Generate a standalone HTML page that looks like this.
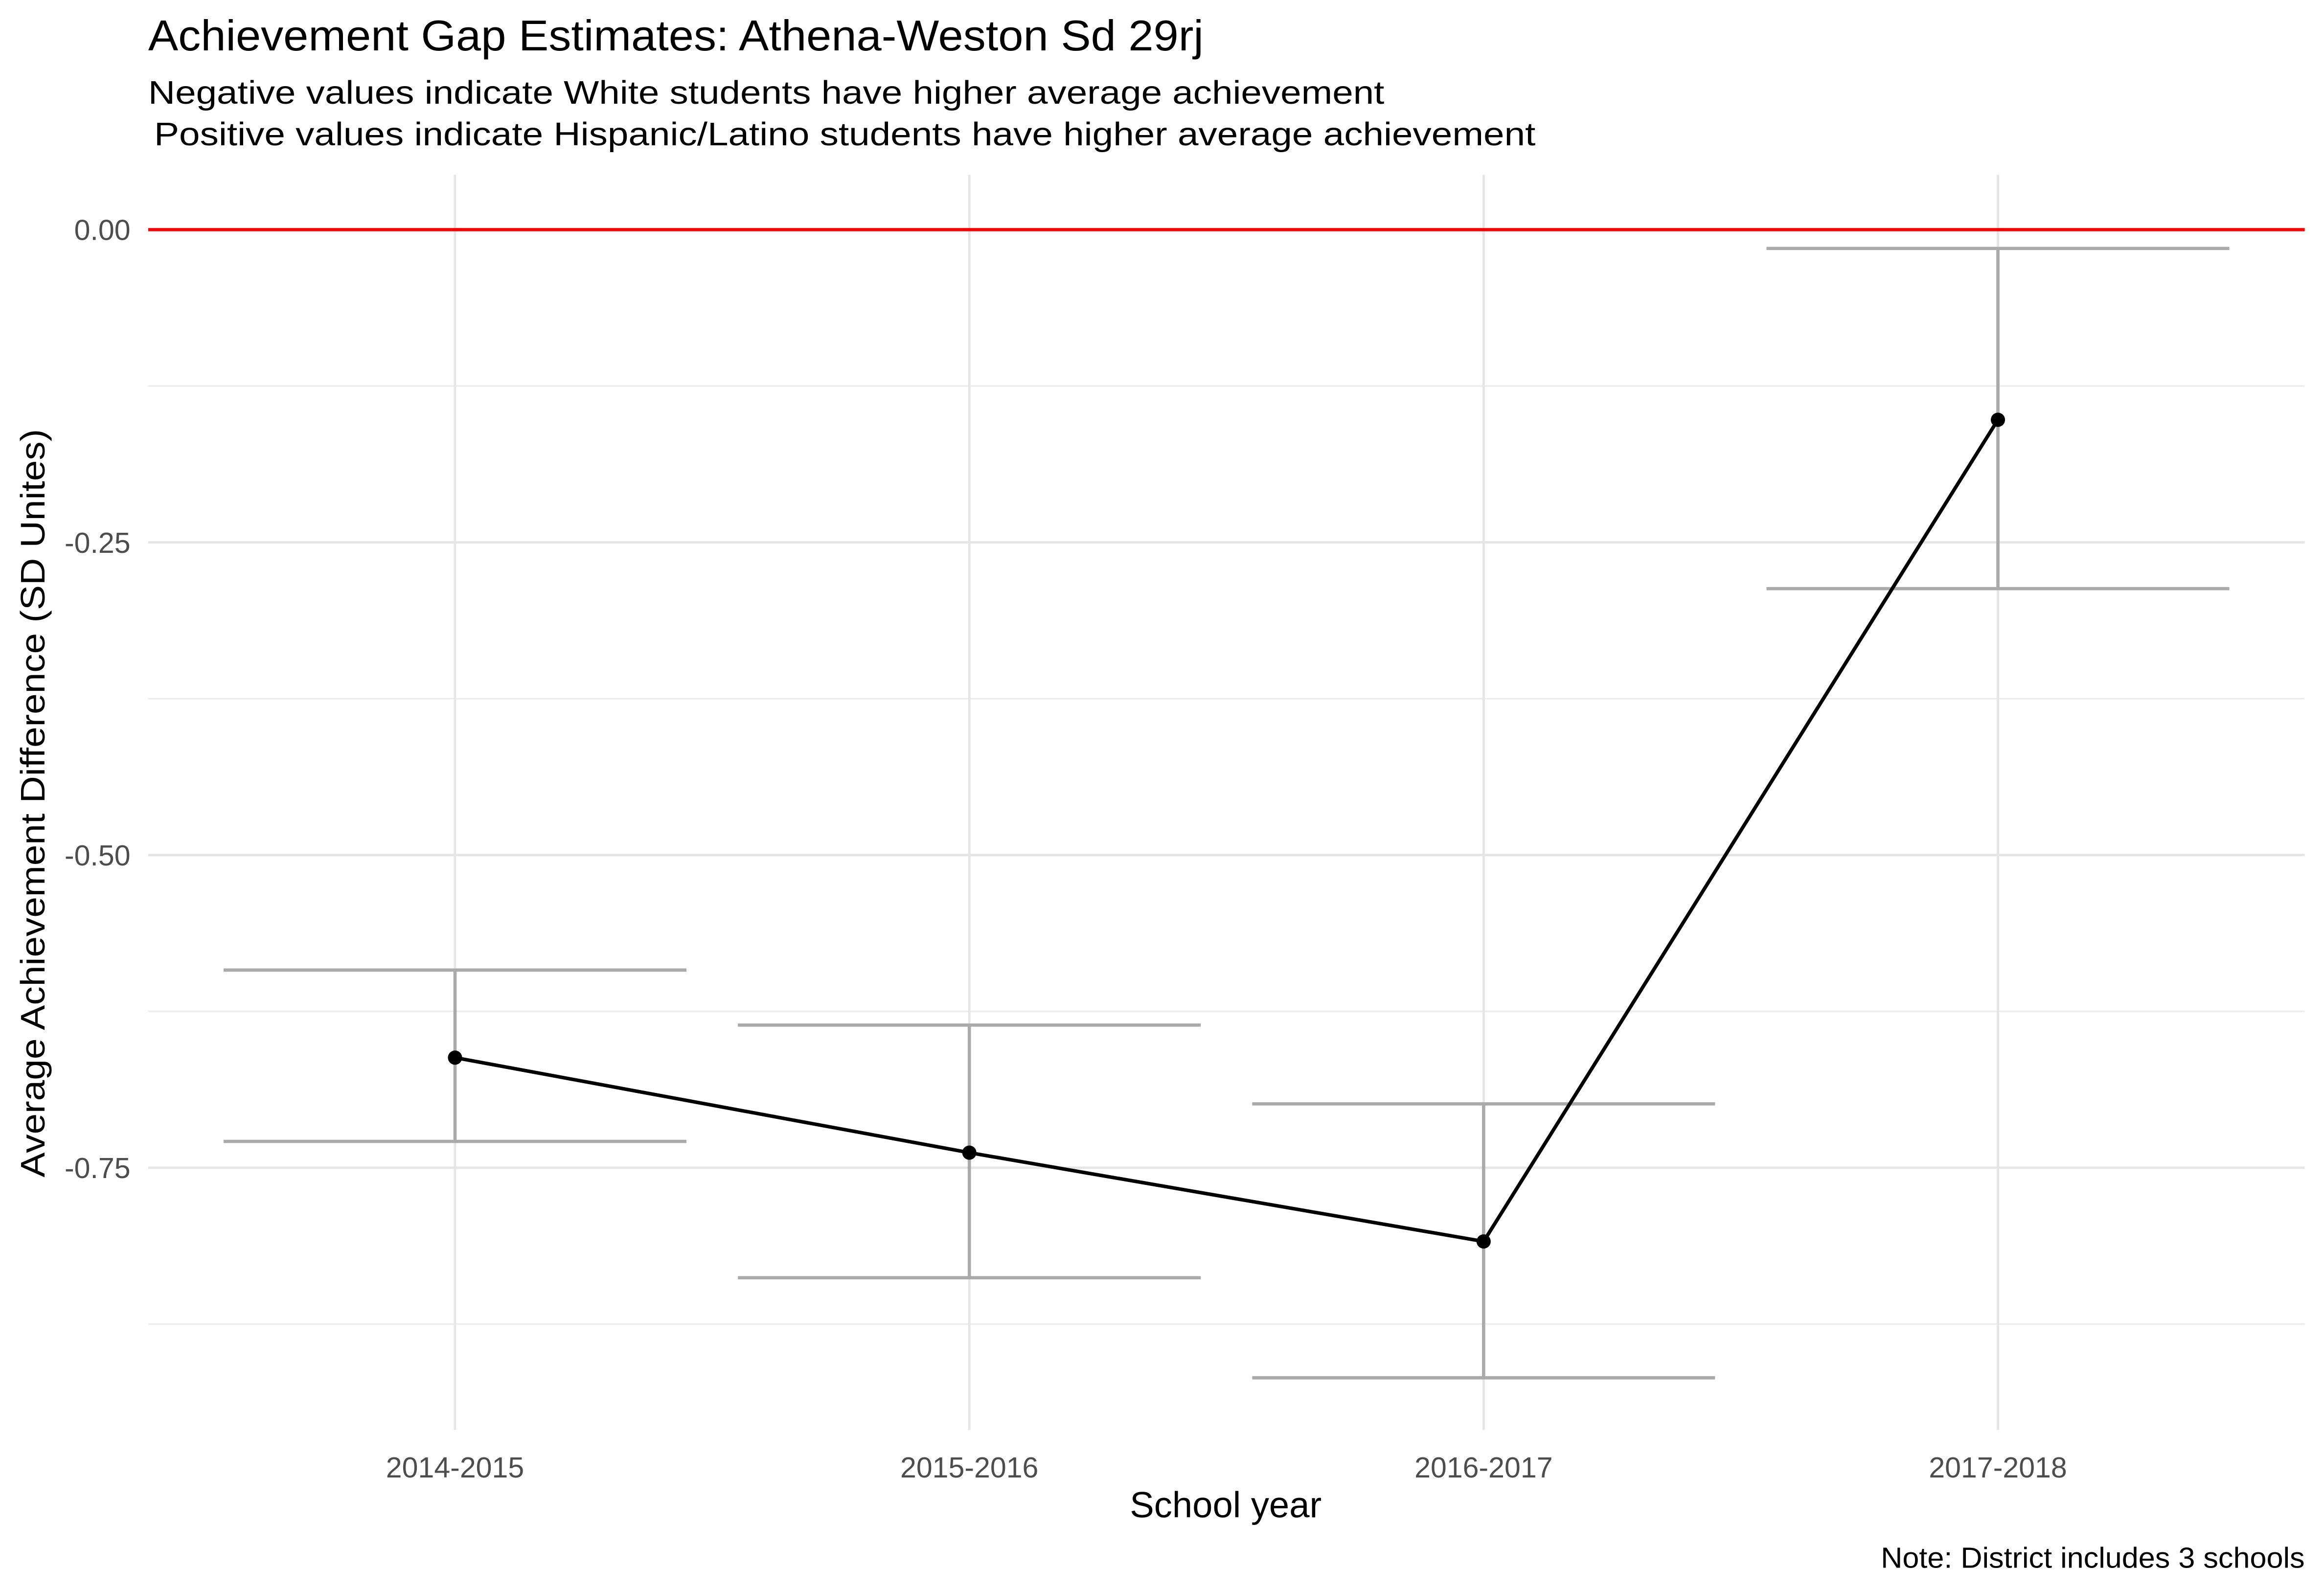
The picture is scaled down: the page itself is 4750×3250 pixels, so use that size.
<!DOCTYPE html>
<html><head><meta charset="utf-8"><style>
html,body{margin:0;padding:0;background:#fff;}
svg{display:block;font-family:"Liberation Sans",Arial,sans-serif;}
</style></head><body>
<svg id="chart" width="4750" height="3250" viewBox="0 0 1568 1073" preserveAspectRatio="none" xmlns="http://www.w3.org/2000/svg">
<rect width="1568" height="1073" fill="#fff"/>
<text x="100" y="34" font-size="29" textLength="712" lengthAdjust="spacingAndGlyphs">Achievement Gap Estimates: Athena-Weston Sd 29rj</text>
<text x="100" y="70" font-size="22" textLength="834" lengthAdjust="spacingAndGlyphs">Negative values indicate White students have higher average achievement</text>
<text x="104" y="98" font-size="22" textLength="932" lengthAdjust="spacingAndGlyphs">Positive values indicate Hispanic/Latino students have higher average achievement</text>
<g id="grid"></g>
<g id="marks"></g>
<g id="labels" font-size="19.5" fill="#4d4d4d"></g>
<text x="827" y="1024" font-size="24.5" text-anchor="middle">School year</text>
<text transform="translate(30,542) rotate(-90)" font-size="23" text-anchor="middle" textLength="505" lengthAdjust="spacingAndGlyphs">Average Achievement Difference (SD Unites)</text>
<text x="1555" y="1058" font-size="19.5" text-anchor="end" textLength="286" lengthAdjust="spacingAndGlyphs">Note: District includes 3 schools</text>
</svg>
<script>
const categories = ["2014-2015","2015-2016","2016-2017","2017-2018"];
const estimates = [-0.662, -0.738, -0.809, -0.152];
const upperCI = [-0.592, -0.636, -0.699, -0.015];
const lowerCI = [-0.729, -0.838, -0.918, -0.287];
const majorTicks = [0, -0.25, -0.5, -0.75];
const tickLabels = ["0.00","-0.25","-0.50","-0.75"];
const minorTicks = [-0.125, -0.375, -0.625, -0.875];

const NS = "http://www.w3.org/2000/svg";
const panelL = 100, panelR = 1555, panelT = 118, panelB = 965;
function yScale(v){ return 155 - v * 844; }
function xScale(i){ return 307 + i * 347; }
const halfW = 0.45 * 347;
function mk(tag, attrs, parent){
  const e = document.createElementNS(NS, tag);
  for (const k in attrs) e.setAttribute(k, attrs[k]);
  parent.appendChild(e);
  return e;
}
const grid = document.getElementById('grid');
const marks = document.getElementById('marks');
const labels = document.getElementById('labels');

minorTicks.forEach(v => {
  const l = mk('line', {x1:panelL, x2:panelR, y1:yScale(v), y2:yScale(v), stroke:'#ebebeb', 'stroke-width':1}, grid);
  
  
});
majorTicks.forEach((v, i) => {
  const l = mk('line', {x1:panelL, x2:panelR, y1:yScale(v), y2:yScale(v), stroke:'#e5e5e5', 'stroke-width':1.6}, grid);
  
  
  const t = mk('text', {x:88, y:yScale(v) + 7, 'text-anchor':'end'}, labels);
  t.textContent = tickLabels[i];
  
  
});
categories.forEach((c, i) => {
  const l = mk('line', {x1:xScale(i), x2:xScale(i), y1:panelT, y2:panelB, stroke:'#e5e5e5', 'stroke-width':1.6}, grid);
  
  
  const t = mk('text', {x:xScale(i), y:997, 'text-anchor':'middle'}, labels);
  t.textContent = c;
  
  
});

const zero = mk('line', {x1:panelL, x2:panelR, y1:yScale(0), y2:yScale(0), stroke:'#ff0000', 'stroke-width':2.2}, marks);



categories.forEach((c, i) => {
  const g = mk('g', {stroke:'#aaaaaa', 'stroke-width':2.2, fill:'none'}, marks);
  
  
  const x = xScale(i), yu = yScale(upperCI[i]), yl = yScale(lowerCI[i]);
  mk('line', {x1:x-halfW, x2:x+halfW, y1:yu, y2:yu}, g);
  mk('line', {x1:x-halfW, x2:x+halfW, y1:yl, y2:yl}, g);
  mk('line', {x1:x, x2:x, y1:yu, y2:yl}, g);
});

const pts = estimates.map((v, i) => xScale(i) + ',' + yScale(v)).join(' ');
const line = mk('polyline', {points:pts, fill:'none', stroke:'#000', 'stroke-width':2.4}, marks);


estimates.forEach((v, i) => {
  const p = mk('circle', {cx:xScale(i), cy:yScale(v), r:4.8, fill:'#000'}, marks);
  
  
});
</script>
</body></html>
